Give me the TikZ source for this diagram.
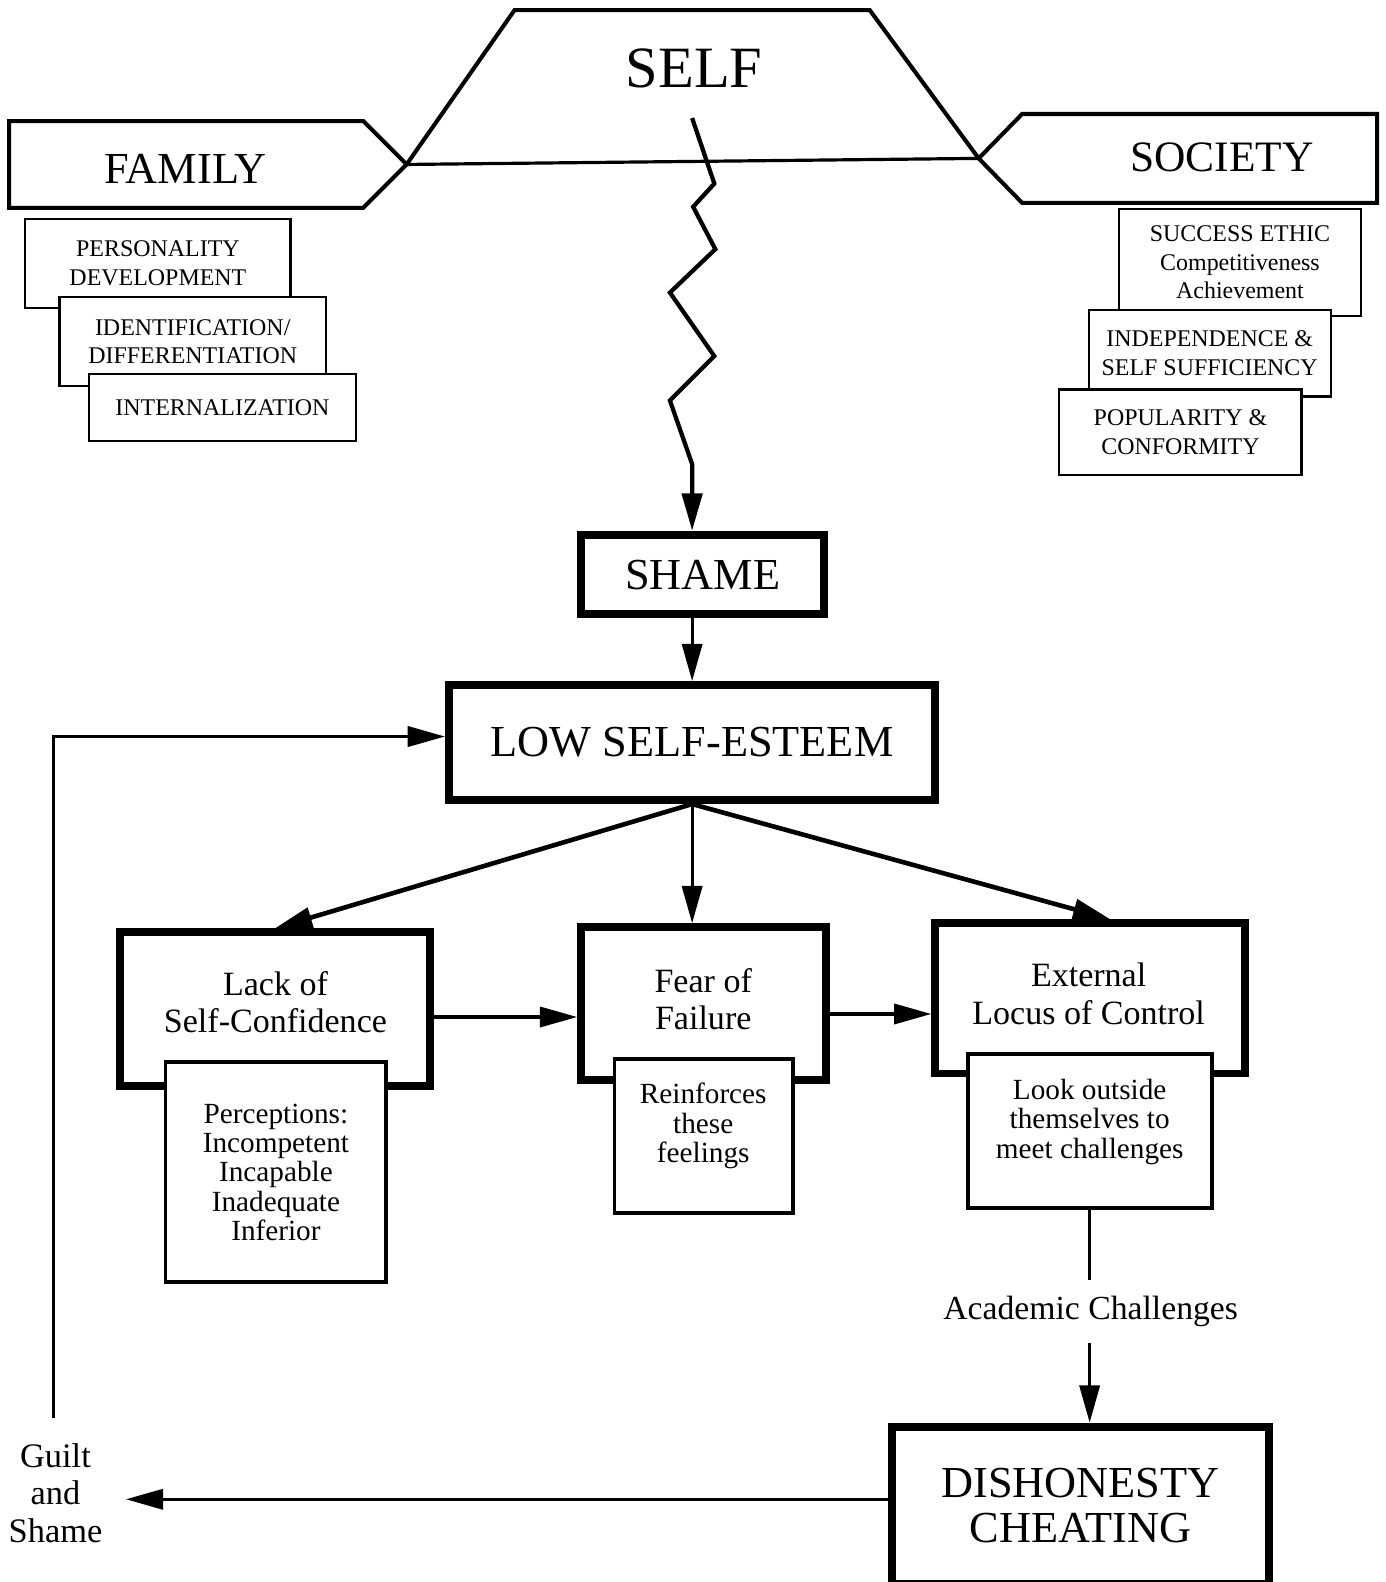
\documentclass[tikz,border=0pt]{standalone}
\usepackage{fontspec}
\setmainfont{Liberation Serif}
\usetikzlibrary{arrows.meta}
\begin{document}
\begin{tikzpicture}[x=0.02cm, y=-0.02cm,
  every node/.style={align=center, inner sep=0pt},
  tip/.style={-{Triangle[length=0.74cm, width=0.4cm]}},
  conn/.style={line width=1.8pt, tip},
  heavy/.style={line width=2.6pt},
  outline/.style={line width=2.3pt, line join=miter},
  famsub/.style={draw, line width=1.2pt, fill=white, font=\fontsize{13.5}{16}\selectfont},
  midsub/.style={draw, line width=2.2pt, fill=white},
  bigbox/.style={draw, line width=4.5pt, fill=white},
  headline/.style={font=\fontsize{25}{25.6}\selectfont},
  midtext/.style={font=\fontsize{19.2}{21}\selectfont},
  subtext/.style={font=\fontsize{16.5}{16.5}\selectfont}
]
\useasboundingbox (0,0) rectangle (1373,1568);

% ---- SELF, FAMILY and SOCIETY frame ----
\coordinate (famtip) at (403,163);
\coordinate (soctip) at (970,157);
\draw[outline] (9,120) -- (360,120) -- (famtip) -- (360,206) -- (9,206) -- cycle;
\draw[outline] (soctip) -- (1013,113) -- (1365,113) -- (1365,201) -- (1013,201) -- cycle;
\draw[outline] (famtip) -- (510,10) -- (862,10) -- (soctip);
\draw[line width=1.8pt] (famtip) -- (soctip);
\node[font=\fontsize{33}{33}\selectfont] (self) at (688,68) {SELF};
\node[font=\fontsize{25}{25}\selectfont] (family) at (184,167) {FAMILY};
\node[font=\fontsize{24.5}{25}\selectfont] (society) at (1211,156) {SOCIETY};

% ---- family influences ----
\node[famsub, minimum width=5.26cm, minimum height=1.76cm] (pers) at (156.5,261) {PERSONALITY\\DEVELOPMENT};
\node[famsub, minimum width=5.28cm, minimum height=1.78cm] (ident) at (191,338.5) {IDENTIFICATION/\\DIFFERENTIATION};
\node[famsub, minimum width=5.30cm, minimum height=1.32cm] (intern) at (220.5,404) {INTERNALIZATION};

% ---- society influences ----
\node[famsub, minimum width=4.8cm, minimum height=2.12cm] (success) at (1229,260) {SUCCESS ETHIC\\Competitiveness\\Achievement};
\node[famsub, minimum width=4.8cm, minimum height=1.72cm] (indep) at (1199,350) {INDEPENDENCE \&\\SELF SUFFICIENCY};
\node[famsub, minimum width=4.8cm, minimum height=1.70cm] (popul) at (1170,428.5) {POPULARITY \&\\CONFORMITY};

% ---- central chain ----
\node[bigbox, headline, minimum width=4.82cm, minimum height=1.58cm] (shame) at (696.5,569.5) {SHAME};
\node[bigbox, headline, minimum width=9.64cm, minimum height=2.28cm] (lse) at (686,736) {LOW SELF-ESTEEM};

% ---- consequences ----
\node[bigbox, minimum width=6.14cm, minimum height=3.04cm] (lack) at (272.5,1000) {};
\node[midtext] (lacktext) at (273,993) {Lack of\\Self-Confidence};
\node[midsub, subtext, minimum width=4.38cm, minimum height=4.36cm] (perc) at (273.5,1162)
  {Perceptions:\\Incompetent\\Incapable\\Inadequate\\Inferior};

\node[bigbox, minimum width=4.86cm, minimum height=3.02cm] (fear) at (697.5,994.5) {};
\node[midtext] (feartext) at (697,990) {Fear of\\Failure};
\node[midsub, minimum width=3.54cm, minimum height=3.04cm] (reinf) at (697.5,1126) {};
\node[subtext] (reinftext) at (697,1116) {Reinforces\\these\\feelings};

\node[bigbox, minimum width=6.14cm, minimum height=2.98cm] (ext) at (1080.5,989.5) {};
\node[midtext] (exttext) at (1079,985) {External\\Locus of Control};
\node[midsub, minimum width=4.84cm, minimum height=3.04cm] (look) at (1080,1121) {};
\node[subtext] (looktext) at (1080,1112) {Look outside\\themselves to\\meet challenges};

\node[font=\fontsize{19}{19}\selectfont, inner ysep=0.32cm] (acad) at (1081,1300) {Academic Challenges};
\node[bigbox, headline, minimum width=7.48cm, minimum height=3.12cm] (dish) at (1071,1492) {DISHONESTY\\CHEATING};
\node[font=\fontsize{19.4}{21}\selectfont, inner xsep=0.46cm] (guilt) at (55,1480) {Guilt\\and\\Shame};

% ---- connectors ----
\coordinate (zz) at (686,117);
\coordinate (zend) at (686,460);
\draw[line width=2.4pt, line join=miter, tip] (zz) -- (708,182) -- (687,205) -- (709,247)
  -- (664,290) -- (708,353) -- (664,397) -- (zend) -- (zend |- shame.north);
\draw[conn] (lse.north |- shame.south) -- (lse.north);
\draw[conn, heavy] (lse.south) -- (lack.north);
\draw[conn] (lse.south) -- (lse.south |- fear.north);
\draw[conn, heavy] (lse.south) -- ([xshift=0.4cm]ext.north);
\draw[conn] ([yshift=-0.16cm]lack.east) -- ([yshift=-0.16cm]lack.east -| fear.west);
\draw[conn] ([yshift=-0.21cm]fear.east) -- ([yshift=-0.21cm]fear.east -| ext.west);
\draw[line width=1.8pt] (look.south) -- (look.south |- acad.north);
\draw[conn] (look.south |- acad.south) -- (look.south |- dish.north);
\draw[conn] ([yshift=0.12cm]dish.west) -- ([yshift=0.12cm]dish.west -| guilt.east);
\coordinate (fb) at (53,1405);
\draw[conn] (fb) |- ([yshift=0.12cm]lse.west);
\end{tikzpicture}
\end{document}
